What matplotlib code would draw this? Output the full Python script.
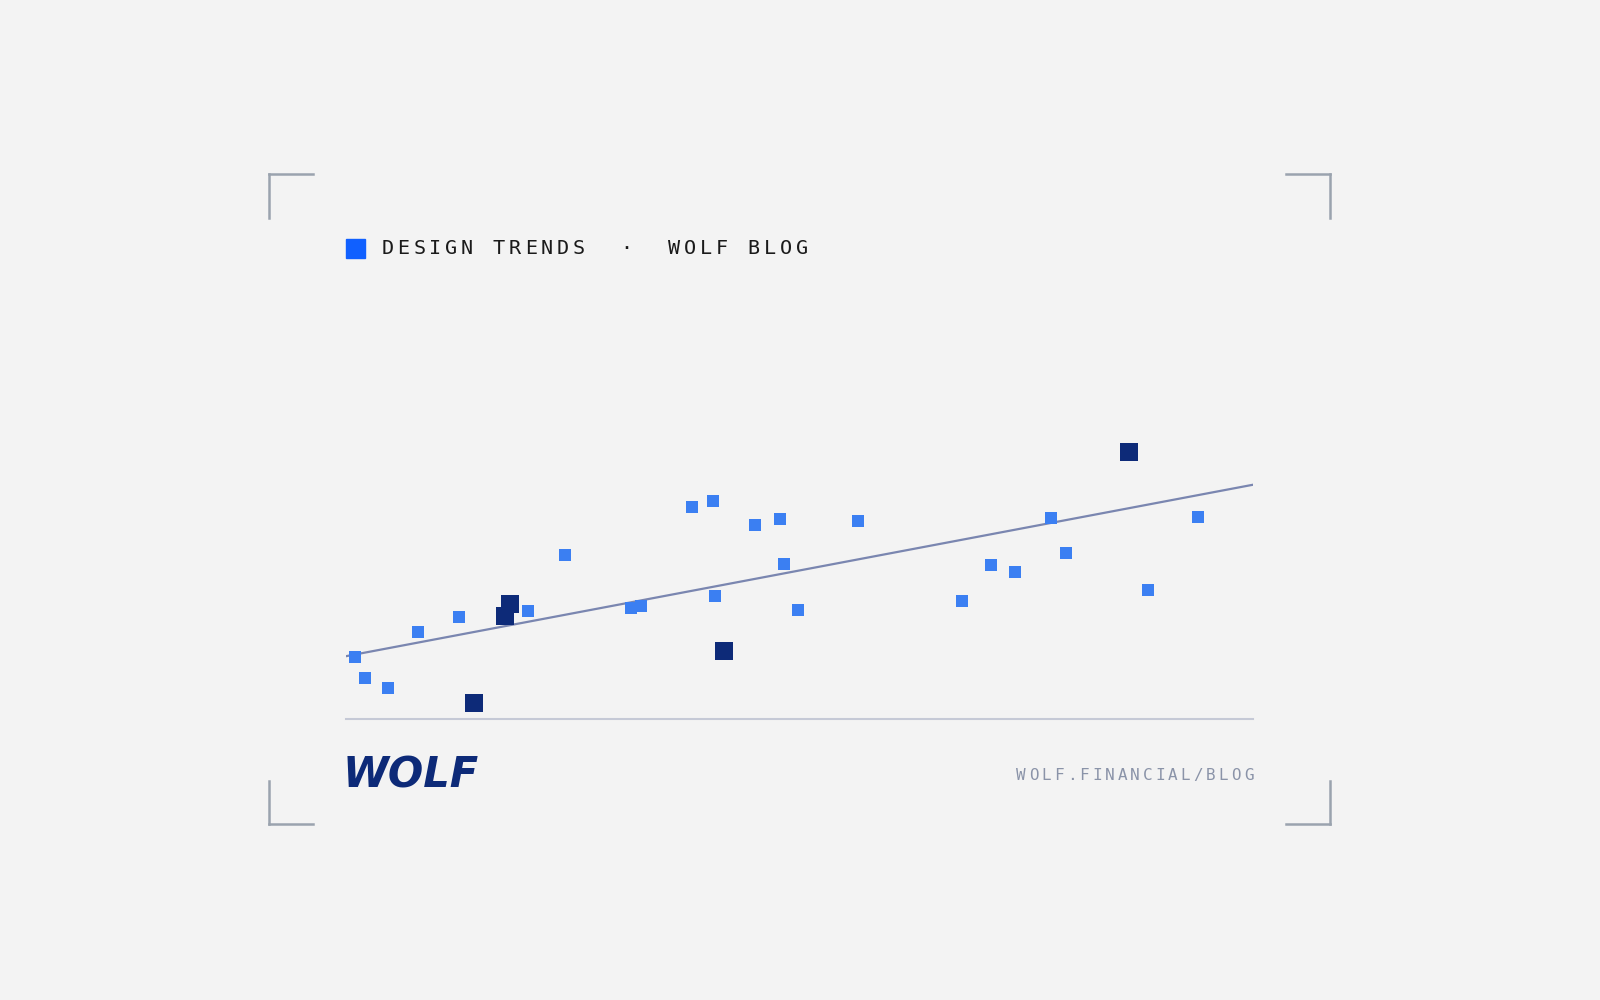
import numpy as np
import matplotlib
matplotlib.use("Agg")
import matplotlib.pyplot as plt
from matplotlib.lines import Line2D
from matplotlib.patches import Rectangle

# data
light_x = [1.0, 2.1, 4.6, 8.0, 12.5, 20.1, 24.1, 31.4, 32.5, 38.1, 40.5, 40.7, 45.1, 47.8,
           48.3, 49.8, 56.4, 67.9, 71.1, 73.8, 77.7, 79.4, 88.4, 93.9]
light_y = [20.0, 13.4, 10.2, 28.2, 32.8, 34.8, 52.8, 35.7, 36.4, 68.2, 70.2, 39.7, 62.6, 64.3,
           49.8, 35.1, 63.6, 38.0, 49.5, 47.5, 64.6, 53.4, 41.6, 64.9]
dark_x = [14.1, 17.5, 18.1, 41.7, 86.3]
dark_y = [5.2, 33.1, 37.0, 22.0, 85.9]
trend_ends = [20.3, 75.4]  # trend line value at x=0 and x=100
title_left = "DESIGN TRENDS"
title_right = "WOLF BLOG"
url = "WOLF.FINANCIAL/BLOG"

W, H = 1568, 980
def F(px, py):
    return px / W, 1 - py / H

fig = plt.figure(figsize=(16, 10), dpi=100, facecolor="#f3f3f3")

ax = fig.add_axes([339 / W, 1 - 705 / H, 889 / W, 405 / H])
ax.set_facecolor("none")
ax.set_xlim(0, 100)
ax.set_ylim(0, 405 / 3.05)
for s in ax.spines.values():
    s.set_visible(False)
ax.set_xticks([]); ax.set_yticks([])
ax.axhline(0, color="#c5c9d6", lw=1.5, clip_on=False)
ax.plot([0, 100], trend_ends, color="#7a86b0", lw=1.6, zorder=2)
ax.scatter(light_x, light_y, marker="s", s=68, color="#3b7ff2", lw=0, zorder=3)
ax.scatter(dark_x, dark_y, marker="s", s=160, color="#0d2a78", lw=0, zorder=4)

# corner brackets
bc = "#9aa3ae"
def L(p1, p2):
    fig.add_artist(Line2D([F(*p1)[0], F(*p2)[0]], [F(*p1)[1], F(*p2)[1]], color=bc, lw=1.8,
                          transform=fig.transFigure))
L((264, 214), (264, 171)); L((264, 171), (307, 171))
L((1260, 171), (1303, 171)); L((1303, 171), (1303, 214))
L((264, 765), (264, 808)); L((264, 808), (307, 808))
L((1260, 808), (1303, 808)); L((1303, 808), (1303, 765))

# title square
fig.add_artist(Rectangle(F(339, 253), 19 / W, 19 / H, color="#1060ff", transform=fig.transFigure))

def spaced(text, x0, py, pitch, size, color, ha="left"):
    n = len(text)
    if ha == "right":
        x0 = x0 - pitch * n
    for i, ch in enumerate(text):
        x, y = F(x0 + pitch * i + pitch / 2, py)
        fig.text(x, y, ch, ha="center", va="center", fontsize=size, color=color,
                 family="DejaVu Sans Mono")

spaced(title_left, 372, 244, 15.6, 14.5, "#1a1a1a")
spaced("·", 606, 244, 15.6, 14.5, "#1a1a1a")
spaced(title_right, 653, 244, 15.6, 14.5, "#1a1a1a")
spaced(url, 1230, 760, 12.4, 11.5, "#8a93a8", ha="right")

x, y = F(336, 760)
fig.text(x, y, "WOLF", ha="left", va="center", fontsize=30, fontweight="heavy",
         style="italic", color="#0d2a78", family="DejaVu Sans")

fig.savefig("out.png", dpi=100, facecolor=fig.get_facecolor())
